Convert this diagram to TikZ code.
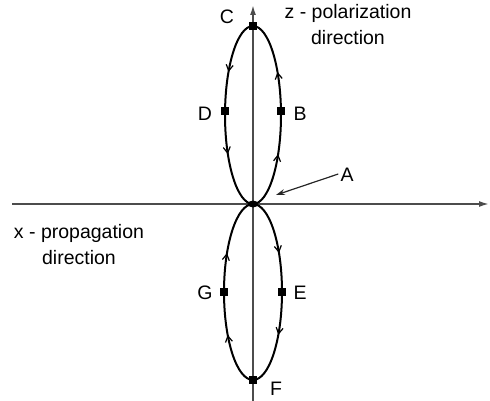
\documentclass[tikz,border=0pt]{standalone}
\usepackage{fontspec}
\setmainfont{Liberation Sans}
\usetikzlibrary{arrows.meta,decorations.markings,shapes.geometric}
\tikzset{
  axis/.style={draw=black!70, line width=1.6pt, -{Latex[length=10pt,width=6pt]}},
  loopline/.style={draw=black, line width=2pt},
  tipmark/.style={decorate, decoration={markings,
      mark=at position #1 with {\arrow{Straight Barb[length=6pt,width=7pt,line width=1.2pt]}}}},
  sq/.style={fill=black, minimum size=7.5pt, inner sep=0pt, outer sep=0pt},
  lbl/.style={font=\fontsize{19.5}{22}\selectfont, inner sep=0pt},
  txt/.style={font=\fontsize{19.5}{26}\selectfont, align=center, inner sep=0pt},
  pointer/.style={draw=black!85, line width=1.2pt, -{Stealth[length=9pt,width=6pt]}}
}
\begin{document}
\begin{tikzpicture}[x=1pt,y=-1pt]
\useasboundingbox (0,0) rectangle (490,401);
% axes
\coordinate (xs) at (12,204);
\coordinate (xe) at (489,204);
\coordinate (zs) at (253,401);
\coordinate (ze) at (253,5);
\draw[axis] (xs) -- (xe);
\draw[axis] (zs) -- (ze);
% key points
\coordinate (A) at (253,204);
\coordinate (C) at (253,26);
\coordinate (F) at (253,380);
% upper loop: right side up, left side down
\draw[loopline, postaction={tipmark=0.3}, postaction={tipmark=0.72}]
  (A) arc[start angle=90, end angle=-90, x radius=28, y radius=89];
\draw[loopline, postaction={tipmark=0.28}, postaction={tipmark=0.7}]
  (C) arc[start angle=-90, end angle=-270, x radius=28, y radius=89];
% lower loop: right side down, left side up
\draw[loopline, postaction={tipmark=0.3}, postaction={tipmark=0.72}]
  (A) arc[start angle=-90, end angle=90, x radius=29, y radius=88];
\draw[loopline, postaction={tipmark=0.28}, postaction={tipmark=0.7}]
  (F) arc[start angle=90, end angle=270, x radius=29, y radius=88];
% markers
\node[sq] (mC) at (C) {};
\node[sq] (mB) at (281,111) {};
\node[sq] (mD) at (225,111) {};
\node[sq] (mE) at (282,292) {};
\node[sq] (mG) at (224,292) {};
\node[sq] (mF) at (F) {};
\node[fill=black, ellipse, minimum width=10pt, minimum height=7pt, inner sep=0pt] (mA) at (A) {};
% labels
\node[lbl] (lC) at (227,17) {C};
\node[lbl] (lD) at (205,114) {D};
\node[lbl] (lB) at (300,114) {B};
\node[lbl] (lG) at (205,293) {G};
\node[lbl] (lE) at (300,293) {E};
\node[lbl] (lF) at (276,389) {F};
\node[lbl] (lA) at (347,175) {A};
\coordinate (Atip) at (276,195);
\draw[pointer] (lA.west) ++(-2,-1) -- (Atip);
% texts
\node[txt] (zt) at (348,25) {z - polarization\\direction};
\node[txt] (xt) at (79,245) {x - propagation\\direction};
\end{tikzpicture}
\end{document}
